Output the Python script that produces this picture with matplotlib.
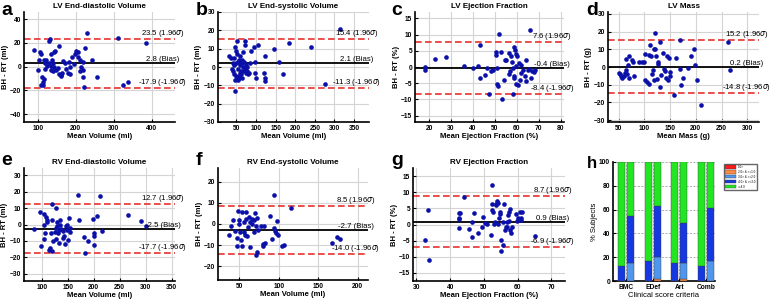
import matplotlib
matplotlib.use('Agg')
import matplotlib.pyplot as plt

plt.rcParams['font.family'] = ['Liberation Sans', 'DejaVu Sans']

W, H = 778, 303

# ---- a: LV end-diastolic volume
a_x = [90, 100, 104, 107, 110, 111, 110, 113, 115, 116, 118, 119, 122, 124, 129, 133, 131, 134, 135, 134,
       137, 140, 142, 142, 146, 149, 153, 156, 157, 160, 164, 166, 171, 175, 180, 181, 184, 186, 190, 195,
       199, 202, 206, 210, 212, 215, 219, 219, 218, 223, 224, 230, 242, 255, 310, 323, 338, 386, 117, 139,
       162, 205]
a_y = [14, -3, 6, 12, 11, -9, -15, -15, -13, 6, 3, -2, 6, 1, 22, 23, 3, 1, -3, 11,
       6, 3, 0, 12, 13, -3, -1, 17, -6, -8, -5, 5, 3, -2, -5, 4, 0, -6, 8, 2,
       11, 13, 12, 6, -4, 0, -3, 4, -9, -17, 16, 28, 6, -9, 24, -15, -13, 20, -10, -4,
       -7, 8]
a_lim = [23.5, 2.8, -17.9]

# ---- b: LV end-systolic volume
b_x = [314, 275, 240, 184, 145, 159, 170, 122, 124, 123, 120, 105, 95, 88, 98, 98, 100, 71, 73, 67,
       51, 46, 32, 36, 38, 40, 41, 43, 44, 45, 46, 47, 48, 50, 51, 52, 53, 54, 55, 56,
       57, 58, 59, 60, 62, 63, 64, 65, 66, 68, 70, 72, 74, 75, 76, 78, 80, 82, 85, 57,
       49, 61]
b_y = [21, -9, 11, 13, 10, 3, -4, 6, -6, -7.5, -3, 12, 11, 9, 3, -3, -6, 14, 12, 8,
       14, -13, 6, 5, -1, 2, -2, 1, 5, -4, 11, -7, 9, -5, -6, 7, 3, -7, -1, 4,
       -5, -3, 1, 6, -2, 2, 4, -6, 0, -2, 3, -1, 1, -3, -2, 0, -4, -3, 2, -6,
       2, -4]
b_lim = [15.4, 2.1, -11.3]

# ---- c: LV ejection fraction
c_x = [18.2, 18.2, 22.8, 27.7, 35.8, 40.2, 42.5, 43.0, 43.4, 45.7, 46.3, 47.2, 48.3, 49.0, 50.3, 50.3,
       50.9, 51.0, 51.3, 52.1, 52.9, 53.4, 54.0, 54.5, 55.2, 56.3, 56.4, 56.8, 57.5, 57.8, 58.3, 58.6,
       58.7, 58.7, 58.4, 59.0, 59.4, 59.5, 59.8, 60.1, 60.6, 60.9, 61.3, 61.8, 62.0, 62.9, 63.6, 64.1,
       64.4, 64.9, 65.5, 65.9, 66.4, 66.7, 67.9, 68.5]
c_y = [-0.1, -1.0, 2.5, 3.0, 0.3, -0.3, 0.3, -3.5, 6.8, -2.4, -0.4, -8.3, -1.2, -0.8, 4.5, 3.7,
       -0.3, -5.4, -6.0, 10.3, 4.5, -10.0, -3.9, 2.2, 2.2, -2.1, 4.3, -1.3, 3.5, 1.5, -0.3, 6.3,
       -2.7, -3.5, -8.3, 5.3, 4.0, -5.2, 0.4, 3.5, -5.7, 1.2, -3.9, -2.0, 0.5, -0.8, -2.7, 2.2,
       -4.4, -1.0, -0.5, 11.4, -3.5, -1.3, -1.6, -1.0]
c_lim = [7.6, -0.4, -8.4]

# ---- d: LV mass
d_x = [50, 52, 54, 56.5, 59.7, 61.7, 63.6, 65, 66.2, 68.2, 69.5, 70.8, 76, 78, 80.5, 89, 95.5, 99.4,
       100.6, 102, 105, 108, 109, 111, 113, 115, 117, 118, 119.5, 120, 121, 122, 124, 126, 127, 130,
       130, 132, 137, 138.6, 140, 142, 143, 145, 147, 149, 150, 158, 161, 169, 170, 172, 176, 185,
       191, 196, 198, 203, 211, 263, 267]
d_y = [-3.4, -4.2, -5.3, -6, -5.1, -3.2, -1.9, 4.7, -3.8, 1, 6, -6.3, 3.8, 2.8, -5.3, 2.8, 2.8, 2.8,
       7.2, -7.2, -8.2, -9.5, 7, 12.5, 6, -3.8, -1.9, -7.6, 10, 19, 10, 6, -6.8, 2.8, 1.9, 14,
       -11.4, -4.7, 8, -1.3, -2.3, -6, 6, -7.6, 5.3, -5.3, -2.8, -15.6, 5.3, -1, 15.2, -10, -6.3, -0.6,
       6, 10, 1, -7.2, -21.4, 14, -1.9]
d_lim = [15.2, 0.2, -14.8]

# ---- e: RV end-diastolic volume
e_x = [86, 96, 99, 104, 105, 106, 104, 109, 110, 111, 114, 115, 117, 119, 119, 120, 122, 125, 127,
       128, 128, 130, 130, 131, 133, 134, 135, 136, 138, 140, 141, 143, 145, 146, 148, 149, 151, 152,
       154, 155, 170, 172, 181, 183, 189, 198, 200, 201, 201, 207, 212, 215, 265, 291, 300]
e_y = [-3, 7.6, -13, 6.6, 0, -5.3, -8.8, 4.5, 1.4, 2.5, -15.6, -14.3, -5.3, -16.4, 12.7, 2.9, -9.8,
       -4.7, -2, 9.8, -8.8, -1.2, 1.4, -5.3, -3.3, -11.5, 0, 2.5, -2.7, -8.2, -3.7, -6.8, -11.9, -1.2,
       -3.3, 0, -9.4, 3.9, -4.7, -2, 17.8, 2.9, -7.4, -17.6, -10.2, 3.1, -6.8, -5.3, -12.5, 4.9, 17.2,
       -3.7, 5.9, 2, -1.2]
e_lim = [12.7, -2.5, -17.7]

# ---- f: RV end-systolic volume
f_x = [37, 39, 42, 44, 47, 47, 48, 49, 50, 51, 52, 53, 54, 56, 56, 57, 58, 59, 60, 61, 62, 63, 64,
       66, 66, 68, 69, 70, 71, 71, 72, 73, 74, 78, 80, 80, 81, 82, 89, 91, 94, 94, 95, 96, 98, 99,
       104, 106, 116, 168, 174, 178]
f_y = [-5.2, -0.9, 1.9, -3.3, -6.7, -10.3, 6.3, 1.9, 0, -3.6, -7.8, -10.3, 5.8, -3.6, 1.1, -5.2, 5.9,
       2.2, -5.6, -1.6, 3.4, -11, 1.1, 0, 2.2, -3.6, 1.9, 5, -14.5, -0.8, 2.7, -13.4, -2.8, -0.9, -10.3,
       -9.4, -0.9, -8.8, 3.8, -7.2, 13.6, -2, -3.1, -4.1, 1.6, -5.2, -10.6, -10, 7.8, -8.8, -6.3, -7.2]
f_lim = [8.5, -2.7, -14.0]

# ---- g: RV ejection fraction
g_x = [32.5, 33.4, 33.8, 42.5, 42.6, 42.7, 42.6, 42.9, 44.1, 45.6, 46.4, 46.6, 47.1, 48.3, 49.5, 49.8,
       50.3, 50.8, 52.1, 52.3, 52.5, 52.5, 52.7, 53.0, 53.2, 53.5, 53.7, 53.9, 54.2, 54.2, 54.4, 54.7,
       54.8, 55.0, 55.2, 55.5, 55.7, 56.0, 56.2, 56.4, 56.7, 56.9, 57.2, 57.4, 57.5, 57.6, 57.8, 58.1,
       58.4, 59.6, 59.9, 60.1, 60.6, 60.9, 61.1, 61.4, 65.0]
g_y = [-4.9, 4.4, -10.9, 3.6, 2.1, 1.7, -1.0, 3.6, 8.6, -1.3, -4.0, 0.9, 3.6, -2.6, -0.9, 2.4,
       0.5, 0.1, -3.1, 4.4, 6.2, 12.2, 3.9, 0.1, 0.8, 6.0, 6.5, 7.3, 6.7, 0.3, 1.9, 3.9,
       3.1, -8.2, -4.7, 0.8, -6.2, 6.3, -1.8, -0.9, 0.8, -0.7, 2.9, 3.9, 1.1, -1.8, 4.7, -2.6,
       -0.9, 3.2, 1.0, 1.9, 3.9, 2.1, 1.3, 3.9, -3.6]
g_lim = [8.7, 0.9, -6.9]

# ---- h: clinical score criteria (% subjects per score band)
h_categories = ['BMC', 'EDef', 'Art', 'Comb']
h_bands = ['1.0>', '2.0> & >=1.0', '3.0> & >=2.0', '4.0> & >=3.0', '>=4.0']
h_first = [[0, 0, 0, 0], [0, 0, 0, 0], [0, 0, 0, 0], [13, 16.5, 15, 13], [87, 83.5, 85, 87]]
h_second = [[0, 0, 0, 0], [0, 1.5, 1.5, 0], [15, 18.5, 13.5, 16.5], [40, 43, 33.5, 45], [45, 37, 52, 38.5]]
h_colors = ['#ff1a1a', '#ff8a45', '#4f97ee', '#1538e0', '#22e622']


def px_axes(fig, x0, y0, x1, y1):
    return fig.add_axes([x0 / W, 1 - y1 / H, (x1 - x0) / W, (y1 - y0) / H])


def style_axes(ax, grid_ls='-'):
    for s in ['top', 'right']:
        ax.spines[s].set_visible(False)
    for s in ['left', 'bottom']:
        ax.spines[s].set_linewidth(1.2)
    ax.tick_params(direction='in', length=2, width=0.8, labelsize=4.8, pad=2)
    for lab in ax.get_xticklabels() + ax.get_yticklabels():
        lab.set_fontweight('bold')
    ax.grid(True, color='#d4d4d4', lw=0.8, ls=grid_ls)
    ax.set_axisbelow(True)


def bland_altman(ax, x, y, lims, title, xlabel, ylabel, xlim, ylim, xticks, yticks):
    upper, bias, lower = lims
    ax.scatter(x, y, s=11, color='#0b10a8', linewidths=0, zorder=3)
    ax.axhline(upper, color='#e8312d', ls=(0, (4, 2)), lw=1.2, zorder=2)
    ax.axhline(lower, color='#e8312d', ls=(0, (4, 2)), lw=1.2, zorder=2)
    ax.axhline(bias, color='black', lw=1.3, zorder=2)
    tr = ax.get_yaxis_transform()
    ax.text(0.92, upper, '%.1f (1.96$\\sigma$)' % upper, transform=tr, ha='center', va='bottom',
            fontsize=5.6, clip_on=False)
    ax.text(0.92, bias, '%.1f (Bias)' % bias, transform=tr, ha='center', va='bottom',
            fontsize=5.6, clip_on=False)
    ax.text(0.92, lower, '%.1f (-1.96$\\sigma$)' % lower, transform=tr, ha='center', va='bottom',
            fontsize=5.6, clip_on=False)
    ax.set_xlim(xlim)
    ax.set_ylim(ylim)
    ax.set_xticks(xticks)
    ax.set_yticks(yticks)
    ax.set_title(title, fontsize=5.8, fontweight='bold', pad=3)
    ax.set_xlabel(xlabel, fontsize=5.5, fontweight='bold', labelpad=1)
    ax.set_ylabel(ylabel, fontsize=5.5, fontweight='bold', labelpad=1)
    style_axes(ax)


fig = plt.figure(figsize=(W / 100, H / 100), dpi=100)

ax = px_axes(fig, 24, 12, 175, 122)
bland_altman(ax, a_x, a_y, a_lim, 'LV End-diastolic Volume', 'Mean Volume (ml)', 'BH - RT (ml)',
             (64, 461), (-46.5, 46), [100, 200, 300, 400], [-40, -20, 0, 20, 40])
ax = px_axes(fig, 218, 12, 369, 122)
bland_altman(ax, b_x, b_y, b_lim, 'LV End-systolic Volume', 'Mean Volume (ml)', 'BH - RT (ml)',
             (3, 388), (-30, 30), range(50, 351, 50), range(-30, 31, 10))
ax = px_axes(fig, 415, 12, 564, 122)
bland_altman(ax, c_x, c_y, c_lim, 'LV Ejection Fraction', 'Mean Ejection Fraction (%)', 'BH - RT (%)',
             (13.6, 81.5), (-17, 17), range(20, 81, 10), range(-15, 16, 5))
ax = px_axes(fig, 608, 12, 759, 122)
bland_altman(ax, d_x, d_y, d_lim, 'LV Mass', 'Mean Mass (g)', 'BH - RT (g)',
             (29, 323), (-31, 31), range(50, 301, 50), range(-30, 31, 10))
ax = px_axes(fig, 24, 168, 175, 281)
bland_altman(ax, e_x, e_y, e_lim, 'RV End-diastolic Volume', 'Mean Volume (ml)', 'BH - RT (ml)',
             (66, 356), (-34.5, 34.5), range(100, 351, 50), range(-30, 31, 10))
ax = px_axes(fig, 218, 168, 368, 280)
bland_altman(ax, f_x, f_y, f_lim, 'RV End-systolic Volume', 'Mean Volume (ml)', 'BH - RT (ml)',
             (23, 213), (-26.5, 26.5), range(50, 201, 50), range(-20, 21, 10))
ax = px_axes(fig, 413, 168, 565, 281)
bland_altman(ax, g_x, g_y, g_lim, 'RV Ejection Fraction', 'Mean Ejection Fraction (%)', 'BH - RT (%)',
             (29, 74), (-17.5, 17.5), range(30, 71, 10), range(-15, 16, 5))

# stacked bars
ax = px_axes(fig, 613, 162, 715, 281)
pos = range(1, len(h_categories) + 1)
for offset, stacks in [(-0.17, h_first), (0.17, h_second)]:
    bottom = [0] * len(h_categories)
    for i, vals in enumerate(stacks):
        ax.bar([p + offset for p in pos], vals, 0.27, bottom=bottom, color=h_colors[i],
               edgecolor='#404040', linewidth=0.3, label=h_bands[i] if offset < 0 else None, zorder=3)
        bottom = [b + v for b, v in zip(bottom, vals)]
ax.set_xlim(0.5, 4.35)
ax.set_ylim(0, 100)
ax.set_xticks(list(pos))
ax.set_xticklabels(h_categories)
ax.set_yticks(range(0, 101, 20))
ax.set_ylabel('% Subjects', fontsize=5.5, labelpad=1)
ax.set_xlabel('Clinical score criteria', fontsize=5.5, labelpad=1)
style_axes(ax, grid_ls=(0, (3, 2)))
ax.grid(True, color='#909090', lw=0.5, ls=(0, (3, 2)))
fig.legend(loc='upper left', bbox_to_anchor=(722 / W, 1 - 162 / H), fontsize=2.2,
           handlelength=3.5, handleheight=1.2, borderpad=0.5, labelspacing=0.3,
           frameon=True, edgecolor='#404040', fancybox=False)

for letter, x, y, size in [('a', 1, 15, 14), ('b', 196, 15, 14), ('c', 391, 15, 14), ('d', 586, 15, 14),
                           ('e', 1, 165, 14), ('f', 196, 165, 14), ('g', 391, 165, 14), ('h', 587, 168, 12)]:
    fig.text(x / W, 1 - y / H, letter, fontsize=size, fontweight='bold', va='baseline')

fig.savefig('out.png', dpi=100)
